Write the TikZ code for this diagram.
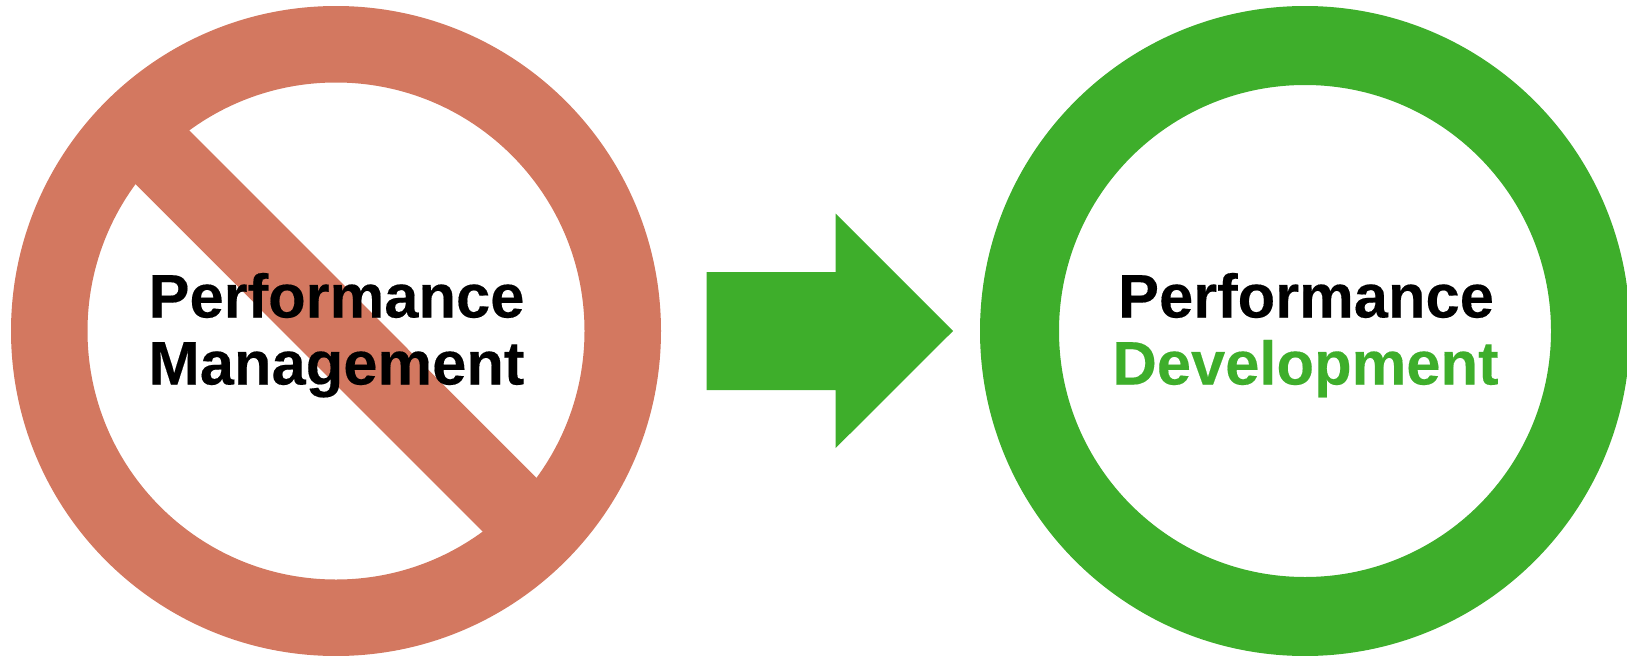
\documentclass[tikz,border=0pt]{standalone}
\usepackage{fontspec}
\setmainfont[BoldFeatures={FakeBold=0.25}]{Liberation Sans}
\definecolor{ringred}{RGB}{211,120,96}
\definecolor{ringgreen}{RGB}{62,174,43}
\tikzset{
    bigword/.style={anchor=base,inner sep=0pt,font=\fontsize{35}{40}\selectfont\bfseries},
}
\begin{document}
\begin{tikzpicture}[x=0.02cm,y=-0.02cm]
        \useasboundingbox (0,0) rectangle (1627,656);
        % --- anello rosso: centro (336,331), raggi 325 e 248.5 ---
        \begin{scope}[shift={(336,331)}]
            \fill[ringred,even odd rule] (0,0) ellipse (325 and 325) (0,0) ellipse (248.5 and 248.5);
            \fill[ringred] (-156.3,-210.3) -- (210.3,156.7) -- (156.7,210.7) -- (-210.3,-156.7) -- cycle;
        \end{scope}
        \node[bigword] (perfLeft) at (336.5,317.5) {Performance};
        \node[bigword] (mgmtLeft) at (336.5,384.5) {Management};
        % --- freccia: gambo 272-390, testa 214-448, punta 953 ---
        \fill[ringgreen] (706.7,272) -- (835.7,272) -- (835.7,213.7) -- (953,331) -- (835.7,448) -- (835.7,390) -- (706.7,390) -- cycle;
        % --- anello verde: centro (1305,331), raggi 325 e 246 ---
        \begin{scope}[shift={(1305,331)}]
            \fill[ringgreen,even odd rule] (0,0) ellipse (325 and 325) (0,0) ellipse (246 and 246);
        \end{scope}
        \node[bigword] (perfRight) at (1306,317.5) {Performance};
        \node[bigword,text=ringgreen] (develRight) at (1305.5,384.5) {Development};
    \end{tikzpicture}
\end{document}
